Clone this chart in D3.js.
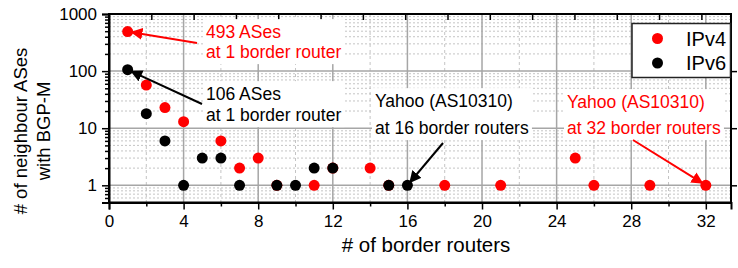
<!DOCTYPE html>
<html>
<head>
<meta charset="utf-8">
<script src="https://cdn.jsdelivr.net/npm/d3@7"></script>
<style>
  body { margin: 0; background: #fff; }
  svg { font-family: "Liberation Sans", Arial, sans-serif; }
</style>
</head>
<body>
<svg id="chart" width="738" height="268"></svg>
<script>
// border routers -> number of neighbour ASes
const ipv4Routers = [1, 2, 3, 4, 6, 7, 8, 9, 11, 12, 14, 15, 18, 21, 25, 26, 29, 32];
const ipv4Counts  = [493, 57, 23, 13, 6, 2, 3, 1, 1, 2, 2, 1, 1, 1, 3, 1, 1, 1];
const ipv6Routers = [1, 2, 3, 4, 5, 6, 7, 9, 10, 11, 12, 15, 16];
const ipv6Counts  = [106, 18, 6, 1, 3, 3, 1, 1, 1, 2, 2, 1, 1];

const xTicks = [0, 4, 8, 12, 16, 20, 24, 28, 32];
const yTicks = [1, 10, 100, 1000];
const seriesNames = ["IPv4", "IPv6"];
const seriesColors = ["#ff0000", "#000000"];

const svg = d3.select("#chart");
const width = 738, height = 268;
const margin = { top: 14, right: 7, bottom: 65.5, left: 109 };
const innerW = width - margin.left - margin.right;
const innerH = height - margin.top - margin.bottom;

const x = d3.scaleLinear().domain([0, 33.35]).range([margin.left, margin.left + innerW]);
const y = d3.scaleLog().domain([0.5, 1000]).range([margin.top + innerH, margin.top]);
// the top frame carries its own tick spacing
const xTop = d3.scaleLinear().domain([0, 14.7]).range([margin.left, margin.left + innerW]);

// minor grid
const minorY = [];
[0.1, 1, 10, 100].forEach(dec => {
    for (let k = 2; k <= 9; k++) {
        const v = dec * k;
        if (v > 0.5 - 1e-9 && v < 1000) minorY.push(v);
    }
});
const minorX = d3.range(2, 33, 4);

const grid = svg.append("g");
grid.selectAll(".minY").data(minorY).enter().append("line")
    .attr("x1", margin.left).attr("x2", margin.left + innerW)
    .attr("y1", d => y(d)).attr("y2", d => y(d))
    .attr("stroke", "#c4c4c4").attr("stroke-width", 1)
    .attr("stroke-dasharray", "2,2");
grid.selectAll(".minX").data(minorX).enter().append("line")
    .attr("x1", d => x(d)).attr("x2", d => x(d))
    .attr("y1", margin.top).attr("y2", margin.top + innerH)
    .attr("stroke", "#c4c4c4").attr("stroke-width", 1)
    .attr("stroke-dasharray", "3,3");
// major grid
grid.selectAll(".majY").data([1, 10, 100]).enter().append("line")
    .attr("x1", margin.left).attr("x2", margin.left + innerW)
    .attr("y1", d => y(d)).attr("y2", d => y(d))
    .attr("stroke", "#a6a6a6").attr("stroke-width", 1.5);
grid.selectAll(".majX").data(xTicks.filter(d => d > 0)).enter().append("line")
    .attr("x1", d => x(d)).attr("x2", d => x(d))
    .attr("y1", margin.top).attr("y2", margin.top + innerH)
    .attr("stroke", "#a6a6a6").attr("stroke-width", 1.5);

// axes
svg.append("g")
    .attr("transform", `translate(0,${margin.top + innerH})`)
    .call(d3.axisBottom(x).tickValues(xTicks).tickSize(7).tickPadding(5).tickFormat(d3.format("d")));
svg.append("g")
    .attr("transform", `translate(0,${margin.top + innerH})`)
    .call(d3.axisBottom(x).tickValues(minorX).tickSize(4).tickFormat(""))
    .select(".domain").remove();

svg.append("g")
    .attr("transform", `translate(${margin.left},0)`)
    .call(d3.axisLeft(y).tickValues(yTicks).tickSize(7).tickPadding(5).tickFormat(d3.format("d")));
svg.append("g")
    .attr("transform", `translate(${margin.left},0)`)
    .call(d3.axisLeft(y).tickValues(minorY).tickSize(4).tickFormat(""))
    .select(".domain").remove();

svg.append("g")
    .attr("transform", `translate(0,${margin.top})`)
    .call(d3.axisBottom(xTop).tickValues(d3.range(1, 15)).tickSize(6).tickFormat(""))
    .select(".domain").remove();
svg.append("g")
    .attr("transform", `translate(${margin.left + innerW},0)`)
    .call(d3.axisRight(y).tickValues([1, 10, 100]).tickSizeInner(6).tickSizeOuter(0).tickFormat(""))
    .select(".domain").remove();

svg.selectAll(".tick line").attr("stroke", "#000").attr("stroke-width", 1.5);
svg.selectAll(".domain").attr("stroke", "#000").attr("stroke-width", 2);
svg.selectAll(".tick text").attr("font-size", 17).attr("fill", "#000")
    .attr("font-family", "Liberation Sans, Arial, sans-serif");

// frame
svg.append("rect")
    .attr("x", margin.left).attr("y", margin.top)
    .attr("width", innerW).attr("height", innerH)
    .attr("fill", "none").attr("stroke", "#000").attr("stroke-width", 2);

// axis titles
svg.append("text")
    .attr("x", 426).attr("y", 252)
    .attr("text-anchor", "middle").attr("font-size", 20.5)
    .text("# of border routers");
const yTitle = svg.append("text")
    .attr("transform", "translate(0,131) rotate(-90)")
    .attr("text-anchor", "middle").attr("font-size", 18.5);
yTitle.append("tspan").attr("x", 0).attr("y", 27).text("# of neighbour ASes");
yTitle.append("tspan").attr("x", 0).attr("y", 50).text("with BGP-M");

// points: IPv4 below, IPv6 on top
const ipv4 = ipv4Routers.map((r, i) => ({ r, n: ipv4Counts[i] }));
const ipv6 = ipv6Routers.map((r, i) => ({ r, n: ipv6Counts[i] }));
[ipv4, ipv6].forEach((data, s) => {
    svg.append("g").selectAll("circle").data(data).enter().append("circle")
        .attr("cx", d => x(d.r)).attr("cy", d => y(d.n))
        .attr("r", 5.5).attr("fill", seriesColors[s]);
});

// annotations
svg.append("defs").selectAll("marker").data(seriesColors).enter().append("marker")
    .attr("id", (d, i) => "arrow" + i)
    .attr("viewBox", "0 0 10 10").attr("refX", 9).attr("refY", 5)
    .attr("markerWidth", 6).attr("markerHeight", 6)
    .attr("markerUnits", "strokeWidth")
    .attr("orient", "auto")
    .append("path").attr("d", "M0,0 L10,5 L0,10 z").attr("fill", d => d);

const notes = [
    { lines: ["493 ASes", "at 1 border router"], color: 0, tx: 206, ty: 32, gap: 20, from: [197, 43], at: [1, 493] },
    { lines: ["106 ASes", "at 1 border router"], color: 1, tx: 206, ty: 94, gap: 21, from: [202, 104], at: [1, 106] },
    { lines: ["Yahoo (AS10310)", "at 16 border routers"], color: 1, tx: 375, ty: 101, gap: 27, from: [443, 143], at: [16, 1] },
    { lines: ["Yahoo (AS10310)", "at 32 border routers"], color: 0, tx: 567, ty: 102, gap: 26, from: [633, 140], at: [32, 1] }
];

notes.forEach(nt => {
    const g = svg.append("g");
    const t = g.append("text").attr("font-size", 17.5).attr("fill", seriesColors[nt.color]);
    nt.lines.forEach((l, i) => {
        t.append("tspan").attr("x", nt.tx).attr("y", nt.ty + i * nt.gap).attr("dy", "0.35em").text(l);
    });
    const bb = t.node().getBBox();
    g.insert("rect", "text")
        .attr("x", bb.x - 3).attr("y", bb.y - 3)
        .attr("width", bb.width + 6).attr("height", bb.height + 5)
        .attr("fill", "#fff");
    // arrow stops at the edge of the marked point
    const px = x(nt.at[0]), py = y(nt.at[1]);
    const dx = px - nt.from[0], dy = py - nt.from[1];
    const len = Math.sqrt(dx * dx + dy * dy);
    svg.append("line")
        .attr("x1", nt.from[0]).attr("y1", nt.from[1])
        .attr("x2", px - dx / len * 4).attr("y2", py - dy / len * 4)
        .attr("stroke", seriesColors[nt.color]).attr("stroke-width", 2)
        .attr("marker-end", `url(#arrow${nt.color})`);
});

// legend
const lg = svg.append("g");
lg.append("rect")
    .attr("x", 632).attr("y", 23.5).attr("width", 98.5).attr("height", 54)
    .attr("fill", "#fff").attr("stroke", "#222").attr("stroke-width", 1.5);
seriesNames.forEach((name, i) => {
    lg.append("circle").attr("cx", 657.5).attr("cy", 38.5 + i * 24.5)
        .attr("r", 5.5).attr("fill", seriesColors[i]);
    lg.append("text").attr("x", 686).attr("y", 38.5 + i * 24.5).attr("dy", "0.35em")
        .attr("font-size", 20).text(name);
});
</script>
</body>
</html>
